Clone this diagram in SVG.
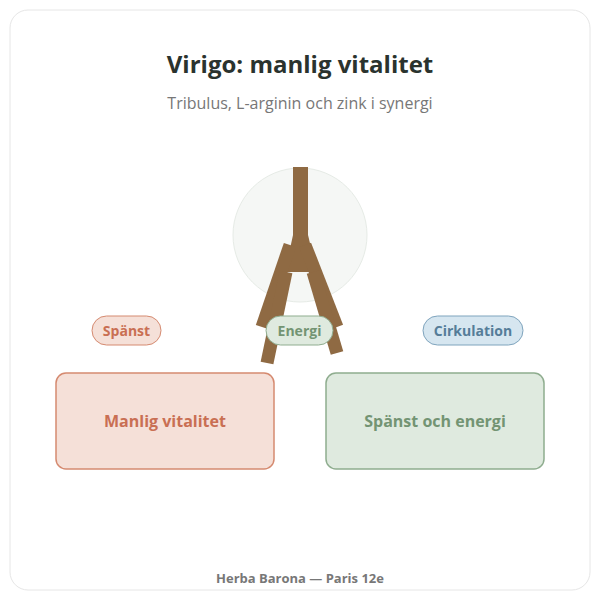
<svg xmlns="http://www.w3.org/2000/svg" width="600" height="600" viewBox="0 0 600 600">
<style>
text{font-family:"Open Sans","Noto Sans",sans-serif;text-anchor:middle}
.pill{font-size:14px;font-weight:bold}
.box{font-size:16px;font-weight:bold}
.br{stroke:#8f6a43;stroke-width:13;stroke-linecap:butt}
</style>
<rect x="0" y="0" width="600" height="600" fill="#ffffff"/>
<rect x="10" y="10" width="580" height="580" rx="18" fill="#ffffff" stroke="#e6e6e6"/>
<text x="300" y="73" font-size="24" font-weight="bold" fill="#2a332e">Virigo: manlig vitalitet</text>
<text x="300" y="109" font-size="16" fill="#777">Tribulus, L-arginin och zink i synergi</text>
<g id="illustration">
<circle cx="300" cy="235" r="67" fill="#f5f7f5" stroke="#e6ebe6"/>
<rect x="293" y="167" width="15" height="72" fill="#8f6a43"/>
<polygon points="293,235 308,235 317,272 285,272" fill="#8f6a43"/>
<line class="br" x1="290" y1="245" x2="262" y2="327"/>
<line class="br" x1="286" y1="272" x2="267" y2="363"/>
<line class="br" x1="305" y1="245" x2="337" y2="327"/>
<line class="br" x1="313" y1="272" x2="337" y2="353"/>
</g>
<g id="spanst"><rect x="92" y="316" width="69" height="29" rx="14.5" fill="#f5e0d8" stroke="#d58a70"/><text class="pill" x="126.5" y="336" fill="#c96f53">Spänst</text></g>
<g id="energi"><rect x="266" y="316" width="67" height="29" rx="14.5" fill="#dfeadf" stroke="#8fad8f"/><text class="pill" x="299.5" y="336" fill="#739473">Energi</text></g>
<g id="cirkulation"><rect x="423" y="316" width="100" height="29" rx="14.5" fill="#d6e6f0" stroke="#7fa4bd"/><text class="pill" x="473" y="336" fill="#557d99">Cirkulation</text></g>
<g id="manlig"><rect x="56" y="373" width="218" height="96" rx="10" fill="#f5e0d8" stroke="#d58a70" stroke-width="1.5"/><text class="box" x="165" y="427" fill="#c96f53">Manlig vitalitet</text></g>
<g id="spanst-energi"><rect x="326" y="373" width="218" height="96" rx="10" fill="#dfeadf" stroke="#8fad8f" stroke-width="1.5"/><text class="box" x="435" y="427" fill="#739473">Spänst och energi</text></g>
<g id="connectors"></g>
<text x="300" y="583" font-size="13" font-weight="bold" fill="#777">Herba Barona — Paris 12e</text>
</svg>
